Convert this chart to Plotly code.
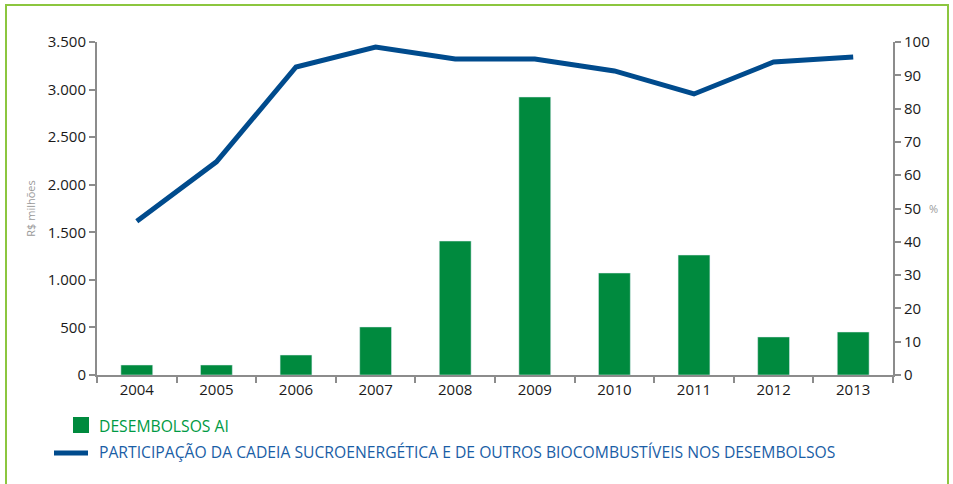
import plotly.graph_objects as go

# data
anos = ["2004", "2005", "2006", "2007", "2008", "2009", "2010", "2011", "2012", "2013"]
desembolsos = [105, 105, 210, 505, 1408, 2922, 1072, 1261, 400, 452]
participacao = [46.2, 64.0, 92.5, 98.5, 94.9, 94.9, 91.3, 84.4, 94.0, 95.5]
left_ticks = [0, 500, 1000, 1500, 2000, 2500, 3000, 3500]
left_labels = ["0", "500", "1.000", "1.500", "2.000", "2.500", "3.000", "3.500"]
right_ticks = [0, 10, 20, 30, 40, 50, 60, 70, 80, 90, 100]

verde = "#008a3e"
azul = "#004b8d"
cinza = "#8c8c8c"
fonte = "Open Sans"

fig = go.Figure()

fig.add_trace(go.Bar(x=anos, y=desembolsos, marker_color=verde, width=0.4,
                     name="DESEMBOLSOS AI", showlegend=False))
fig.add_trace(go.Scatter(x=anos, y=participacao, yaxis="y2", mode="lines",
                         line=dict(color=azul, width=5), showlegend=False,
                         name="PARTICIPAÇÃO"))

fig.update_layout(
    width=953, height=484,
    margin=dict(l=97, r=60, t=42, b=109),
    paper_bgcolor="white", plot_bgcolor="white",
    font=dict(family=fonte, size=15, color="#1a1a1a"),
    xaxis=dict(type="category", showline=True, linecolor=cinza, linewidth=2,
               ticks="outside", tickson="boundaries", ticklen=6, tickcolor=cinza,
               tickwidth=1.5, showgrid=False),
    yaxis=dict(range=[0, 3500], tickvals=left_ticks, ticktext=left_labels,
               showline=True, linecolor=cinza, linewidth=2, ticks="outside",
               ticklen=6, tickcolor=cinza, tickwidth=1.5, showgrid=False,
               zeroline=False,
               title=dict(text="R$ milhões", font=dict(size=11, color="#9a9a9a"),
                          standoff=10)),
    yaxis2=dict(range=[0, 100], tickvals=right_ticks, overlaying="y", side="right",
                showline=True, linecolor=cinza, linewidth=2, ticks="outside",
                ticklen=6, tickcolor=cinza, tickwidth=1.5, showgrid=False,
                zeroline=False),
)

# moldura verde
fig.add_shape(type="rect", xref="paper", yref="paper",
              x0=(6 - 97) / 796, x1=(948 - 97) / 796, y0=-0.36, y1=(375 - 5) / 333,
              line=dict(color="#8cc63f", width=2), fillcolor="rgba(0,0,0,0)")

# rótulo "%"
fig.add_annotation(text="%", xref="paper", yref="paper", x=1.043, y=0.5,
                   showarrow=False, xanchor="left", yanchor="middle",
                   font=dict(size=11, color="#9a9a9a"))

# legenda manual
fig.add_shape(type="rect", xref="paper", yref="paper",
              x0=(73 - 97) / 796, x1=(89 - 97) / 796,
              y0=(375 - 433) / 333, y1=(375 - 417) / 333,
              fillcolor=verde, line=dict(width=0))
fig.add_annotation(text="DESEMBOLSOS AI", xref="paper", yref="paper",
                   x=(97 - 97) / 796, y=(375 - 426) / 333, xanchor="left",
                   yanchor="middle", showarrow=False,
                   font=dict(size=15.7, color="#009a44"))
fig.add_shape(type="line", xref="paper", yref="paper",
              x0=(54 - 97) / 796, x1=(88 - 97) / 796,
              y0=(375 - 453) / 333, y1=(375 - 453) / 333,
              line=dict(color=azul, width=5))
fig.add_annotation(text="PARTICIPAÇÃO DA CADEIA SUCROENERGÉTICA E DE OUTROS BIOCOMBUSTÍVEIS NOS DESEMBOLSOS",
                   xref="paper", yref="paper",
                   x=(97 - 97) / 796, y=(375 - 452) / 333, xanchor="left",
                   yanchor="middle", showarrow=False,
                   font=dict(size=15.7, color="#1a5ea6"))

# tira a margem padrão do body para a figura começar em (0, 0)
fig.write_html("out.html", config={"displayModeBar": False},
               post_script="document.body.style.margin='0';")
